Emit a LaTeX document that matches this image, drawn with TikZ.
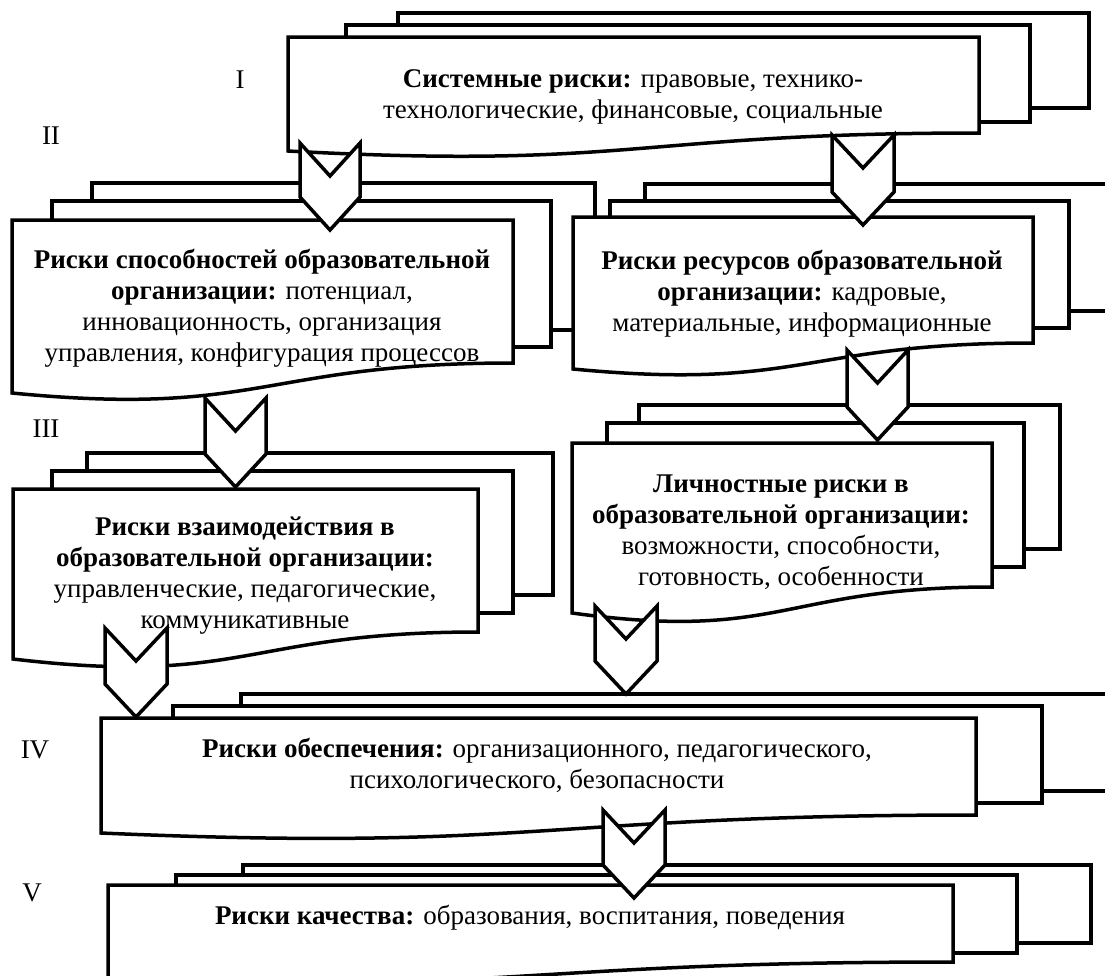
\documentclass[tikz,border=0pt]{standalone}
\usepackage{fontspec}
\setmainfont{Liberation Serif}
\begin{document}
\begin{tikzpicture}[x=0.5pt,y=-0.5pt,
  page/.style={draw=black,fill=white,line width=1.75pt,line join=miter},
  txt/.style={align=center,inner sep=0pt,font=\fontsize{13.5}{15.5}\selectfont},
  lbl/.style={inner sep=0pt,font=\fontsize{13.5}{15.5}\selectfont}]
\newcommand\backpage[4]{\filldraw[page] (#1,#2) rectangle (#3,#4);}
\newcommand\docpage[5]{%
  \pgfmathsetmacro\hh{(#4-#2)/0.802}%
  \pgfmathsetmacro\cy{#2+1.1075*\hh}%
  \pgfmathsetmacro\mx{(#1+#3)/2}%
  \filldraw[page] (#1,#2) -- (#3,#2) -- (#3,#4) .. controls (\mx,#4) and (\mx,\cy) .. (#1,#5) -- cycle;}
\newcommand\chev[4]{%
  \pgfmathsetmacro\xc{(#1+#2)/2}%
  \filldraw[page] (#1,#3) -- (\xc,#3+33) -- (#2,#3) -- (#2,#4-33) -- (\xc,#4) -- (#1,#4-33) -- cycle;}
\useasboundingbox (0,0) rectangle (1105,976);
\clip (0,0) rectangle (1105,976);
% G1
\backpage{398}{13}{1089}{108}
\backpage{346}{25}{1030}{122}
\docpage{288}{37}{979}{133}{151}
% G2
\backpage{92}{183}{595}{330}
\backpage{52}{201}{551}{347}
\docpage{12}{220}{513}{363}{393}
% G3
\backpage{645}{184}{1130}{311}
\backpage{610}{201}{1069}{328}
\docpage{573}{217}{1033}{343}{369}
% G4
\backpage{87}{453}{553}{595}
\backpage{52}{471}{513}{613}
\docpage{13}{489}{478}{632}{659}
% G5
\backpage{639}{405}{1060}{549}
\backpage{607}{423}{1024}{567}
\docpage{572}{443}{992}{587}{613}
% G6
\backpage{241}{694}{1130}{791}
\backpage{173}{706}{1042}{803}
\docpage{101}{718}{976}{815}{833}
% G7
\backpage{243}{865}{1091}{943}
\backpage{176}{875}{1017}{953}
\docpage{108}{885}{953}{962}{983}
% chevrons
\chev{300}{360}{143}{230}
\chev{832}{894}{135}{225}
\chev{847}{908}{350}{440}
\chev{205}{266}{398}{487}
\chev{595}{657}{606}{694}
\chev{105}{167}{628}{717}
\chev{603}{665}{810}{898}
% texts
\node[txt] (t1) at (633,97) {\textbf{Системные риски:} правовые, технико-\\технологические, финансовые, социальные};
\node[txt] (t2) at (262,308) {\textbf{Риски способностей образовательной}\\\textbf{организации:} потенциал,\\инновационность, организация\\управления, конфигурация процессов};
\node[txt] (t3) at (802,294) {\textbf{Риски ресурсов образовательной}\\\textbf{организации:} кадровые,\\материальные, информационные};
\node[txt] (t4) at (245,576) {\textbf{Риски взаимодействия в}\\\textbf{образовательной организации:}\\управленческие, педагогические,\\коммуникативные};
\node[txt] (t5) at (781,532) {\textbf{Личностные риски в}\\\textbf{образовательной организации:}\\возможности, способности,\\готовность, особенности};
\node[txt] (t6) at (537,765) {\textbf{Риски обеспечения:} организационного, педагогического,\\психологического, безопасности};
\node[txt] (t7) at (530,918) {\textbf{Риски качества:} образования, воспитания, поведения};
\node[lbl] (l1) at (240,80) {I};
\node[lbl] (l2) at (51,136) {II};
\node[lbl] (l3) at (46,429) {III};
\node[lbl] (l4) at (35,750) {IV};
\node[lbl] (l5) at (32,893) {V};
\end{tikzpicture}
\end{document}
